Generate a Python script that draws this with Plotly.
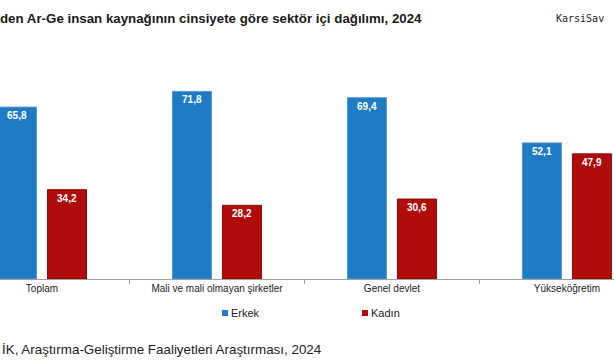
import plotly.graph_objects as go

categories = ["Toplam", "Mali ve mali olmayan şirketler", "Genel devlet", "Yükseköğretim"]
erkek = [65.8, 71.8, 69.4, 52.1]
kadin = [34.2, 28.2, 30.6, 47.9]
series_names = ["Erkek", "Kadın"]
title_text = "den Ar-Ge insan kaynağının cinsiyete göre sektör içi dağılımı, 2024"
source_text = "İK, Araştırma-Geliştirme Faaliyetleri Araştırması, 2024"
watermark = "KarsiSav"

BLUE = "#1f7cc4"
RED = "#b00c0c"
FONT = "Liberation Sans, Arial, sans-serif"

W, H = 614, 364
ML, MR, MT, MB = 0, 0, 70, 85
PH = H - MT - MB


def fmt(v):
    return f"{v:.1f}".replace(".", ",")


fig = go.Figure()
for name, vals, col, lcol in [(series_names[0], erkek, BLUE, "#4f9ad6"),
                              (series_names[1], kadin, RED, "#8e0a0a")]:
    fig.add_trace(go.Bar(
        x=categories, y=vals, name=name,
        marker=dict(color=col, line=dict(color=lcol, width=1)),
        text=[fmt(v) for v in vals],
        textposition="inside", insidetextanchor="end",
        textfont=dict(family=FONT, size=10, color="white", weight="bold"),
        showlegend=False, cliponaxis=False,
    ))


def py(pix):
    # pixel y (from top) -> paper y
    return (MT + PH - pix) / PH


# manual legend
legend_items = [(series_names[0], BLUE, 222), (series_names[1], RED, 362)]
for name, col, x0 in legend_items:
    fig.add_shape(type="rect", xref="paper", yref="paper",
                  x0=x0 / W, x1=(x0 + 6) / W, y0=py(316), y1=py(310),
                  fillcolor=col, line=dict(width=0))
    fig.add_annotation(text=name, xref="paper", yref="paper",
                       x=(x0 + 7) / W, y=py(313), xanchor="left", yanchor="middle",
                       showarrow=False, font=dict(family=FONT, size=11, color="#222222"))

fig.add_annotation(text=source_text, xref="paper", yref="paper",
                   x=0, y=py(349), xanchor="left", yanchor="middle", showarrow=False,
                   font=dict(family=FONT, size=13.4, color="#222222"))
fig.add_annotation(text=watermark, xref="paper", yref="paper",
                   x=606 / W, y=py(18), xanchor="right", yanchor="middle", showarrow=False,
                   font=dict(family="DejaVu Sans Mono, monospace", size=10, color="#222222"))

fig.update_layout(
    width=W, height=H,
    margin=dict(l=ML, r=MR, t=MT, b=MB, pad=0),
    paper_bgcolor="white", plot_bgcolor="white",
    barmode="group", bargap=0.4286, bargroupgap=0.22,
    title=dict(text=title_text, x=0, xref="container", xanchor="left",
               y=1 - 18 / H, yanchor="middle", pad=dict(l=0, t=0, b=0, r=0),
               font=dict(family=FONT, size=13.3, color="#1a1a1a", weight="bold")),
    xaxis=dict(type="category", range=[-0.24, 3.269], tickson="boundaries",
               ticks="outside", ticklen=4, tickcolor="#a0a0a0", showline=True,
               linecolor="#a0a0a0", linewidth=1, showgrid=False, zeroline=False,
               tickfont=dict(family=FONT, size=10, color="#222222")),
    yaxis=dict(range=[0, 80], visible=False, showgrid=False, zeroline=False),
)

fig.write_html("out.html", config={"displayModeBar": False},
               post_script="document.body.style.margin='0';document.body.style.padding='0';")
